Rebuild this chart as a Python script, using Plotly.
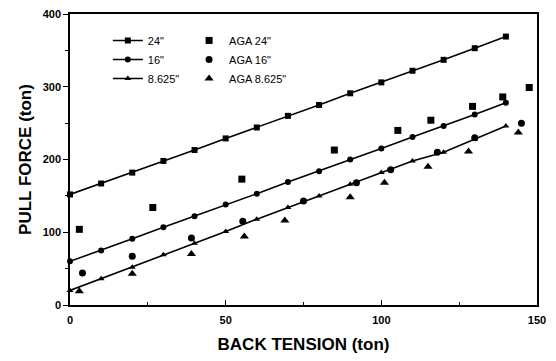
import plotly.graph_objects as go

x_line = [0, 10, 20, 30, 40, 50, 60, 70, 80, 90, 100, 110, 120, 130, 140]
y_24 = [152, 167, 182, 198, 213, 229, 244, 260, 275, 291, 306, 322, 337, 353, 369]
y_16 = [60, 75, 91, 107, 122, 138, 153, 169, 184, 200, 215, 231, 246, 262, 278]
y_8625 = [20, 36, 52, 69, 85, 101, 118, 134, 150, 166, 182, 198, 210, 228, 246]

aga24_x = [3, 26.6, 55.2, 84.9, 105.3, 115.9, 129.3, 139, 147.5]
aga24_y = [104, 134, 173, 213, 240, 254, 273, 286, 299]
aga16_x = [4, 20, 39, 55.5, 75, 92, 103, 118, 130, 145]
aga16_y = [44, 67, 92, 115, 143, 168, 186, 210, 230, 250]
aga8_x = [3, 20, 39, 56, 69, 90, 101, 115, 128, 144]
aga8_y = [19, 43, 70, 94, 116, 148, 168, 190, 211, 237]

x_ticks = [0, 50, 100, 150]
y_ticks = [0, 100, 200, 300, 400]

FONT = "Liberation Sans, Arial, sans-serif"

fig = go.Figure()
line_series = [("24\"", y_24, "square"), ("16\"", y_16, "circle"), ("8.625\"", y_8625, "triangle-up")]
for name, ys, sym in line_series:
    fig.add_trace(go.Scatter(x=x_line, y=ys, mode="lines+markers", name=name,
                             line=dict(color="black", width=1.6),
                             marker=dict(symbol=sym, size=6, color="black"),
                             cliponaxis=False, legend="legend"))

aga_series = [("AGA 24\"", aga24_x, aga24_y, "square", 7),
              ("AGA 16\"", aga16_x, aga16_y, "circle", 7),
              ("AGA 8.625\"", aga8_x, aga8_y, "triangle-up", 8)]
for name, xs, ys, sym, sz in aga_series:
    fig.add_trace(go.Scatter(x=xs, y=ys, mode="markers", name=name,
                             marker=dict(symbol=sym, size=sz, color="black"),
                             cliponaxis=False, legend="legend2"))

fig.update_layout(
    width=556, height=361,
    margin=dict(l=62, r=27, t=6, b=64, autoexpand=False),
    paper_bgcolor="white", plot_bgcolor="white",
    font=dict(family=FONT, color="black"),
    legend=dict(x=0.081, y=0.959, xanchor="left", yanchor="top",
                bgcolor="rgba(0,0,0,0)", font=dict(size=11, family=FONT),
                tracegroupgap=0, itemwidth=30),
    legend2=dict(x=0.255, y=0.959, xanchor="left", yanchor="top",
                 bgcolor="rgba(0,0,0,0)", font=dict(size=11, family=FONT),
                 tracegroupgap=0, itemwidth=30),
    xaxis=dict(range=[0, 150], tickvals=x_ticks, ticktext=[str(v) for v in x_ticks],
               automargin=False, ticklabelstandoff=4, ticklabeloverflow="allow",
               showgrid=False, zeroline=False, showline=True, linecolor="black", linewidth=1.5,
               mirror=True, ticks="inside", ticklen=5, tickwidth=1.2, tickcolor="black",
               minor=dict(dtick=25, ticks="inside", ticklen=3, tickcolor="black"),
               tickfont=dict(size=11, family=FONT, weight="bold"),
               title=dict(text="<b>BACK TENSION (ton)</b>", font=dict(size=17, family=FONT), standoff=13)),
    yaxis=dict(range=[0, 400], tickvals=y_ticks, ticktext=[str(v) for v in y_ticks],
               automargin=False, ticklabeloverflow="allow",
               showgrid=False, zeroline=False, showline=True, linecolor="black", linewidth=1.5,
               mirror=True, ticks="outside", ticklen=5, tickwidth=1.2, tickcolor="black",
               minor=dict(dtick=50, ticks="outside", ticklen=3, tickcolor="black"),
               tickfont=dict(size=11, family=FONT, weight="bold"),
               title=dict(text="<b>PULL FORCE (ton)</b>", font=dict(size=17, family=FONT), standoff=7)),
)

fig.write_html("out.html")
